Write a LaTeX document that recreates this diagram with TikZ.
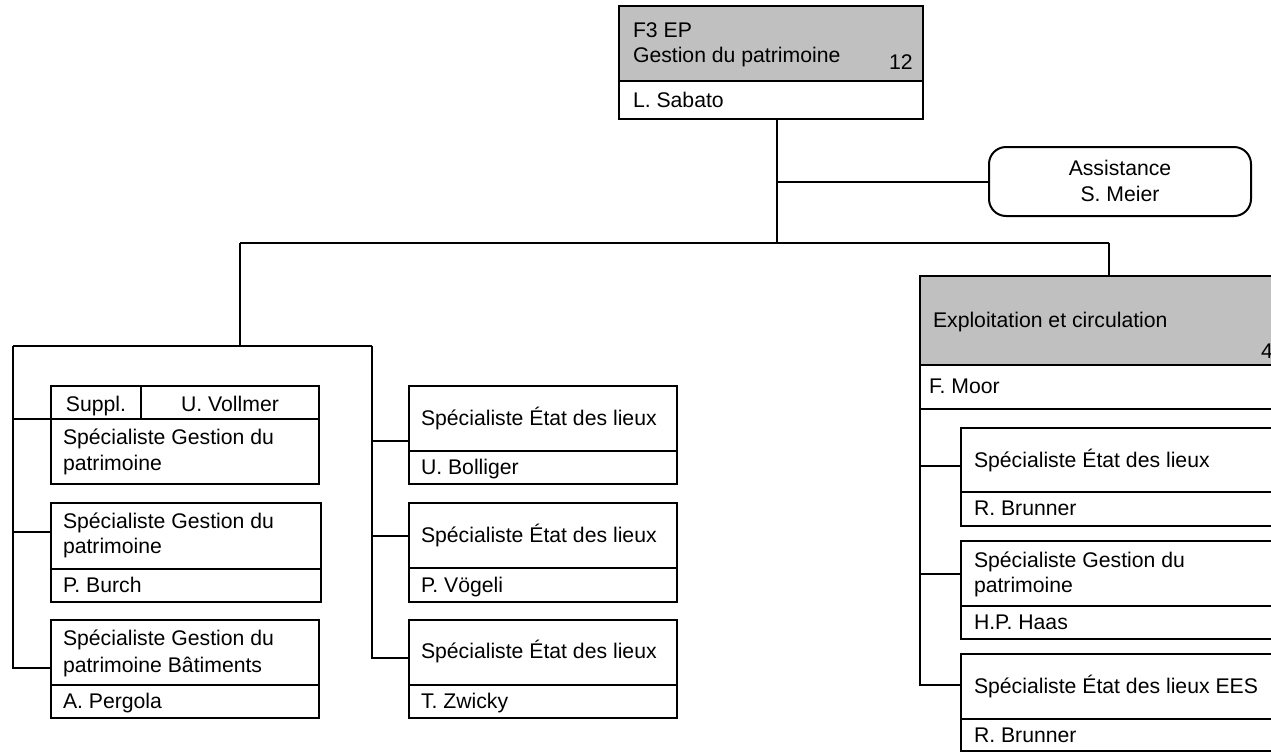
\documentclass[tikz,border=0pt]{standalone}
\usepackage{fontspec}
\setmainfont{Liberation Sans}
\definecolor{hdr}{RGB}{192,192,192}
\begin{document}
\begin{tikzpicture}[x=1pt,y=-1pt,line width=2pt,
  box/.style={draw,inner sep=0pt,outer sep=0pt,anchor=north west},
  txt/.style={inner sep=0pt,anchor=base west,font=\fontsize{21.2}{25}\selectfont},
  ctxt/.style={inner sep=0pt,anchor=base,font=\fontsize{21.2}{25}\selectfont},
  divl/.style={line width=2pt}]
\clip (0,0) rectangle (1271,753);
\fill[white] (0,0) rectangle (1271,753);

% ---- top box
\fill[hdr] (619,6) rectangle (923,81);
\node[box,minimum width=304pt,minimum height=113pt] (top) at (619,6) {};
\draw[divl] (619,81) -- (923,81);
\node[txt] (t1) at (632,37) {F3 EP};
\node[txt] (t2) at (632,62) {Gestion du patrimoine};
\node[txt] (t3) at (888,69) {12};
\node[txt] (t4) at (632,107) {L. Sabato};

% ---- assistance
\node[box,rounded corners=17pt,minimum width=262pt,minimum height=69pt] (assist) at (989,147) {};
\node[ctxt] (a1) at (1120,175) {Assistance};
\node[ctxt] (a2) at (1120,201) {S. Meier};

% ---- Exploitation
\fill[hdr] (920,276) rectangle (1300,365);
\node[box,minimum width=380pt,minimum height=133pt] (expl) at (920,276) {};
\draw[divl] (920,365) -- (1300,365);
\node[txt] (e1) at (932,327) {Exploitation et circulation};
\node[txt] (e2) at (1260,358) {4};
\node[txt] (e3) at (928,393) {F. Moor};

% ---- right boxes
\node[box,minimum width=340pt,minimum height=98pt] (r1) at (961,428) {};
\draw[divl] (961,492) -- (1300,492);
\node[txt] (r1a) at (973,467) {Spécialiste État des lieux};
\node[txt] (r1b) at (973,515) {R. Brunner};

\node[box,minimum width=340pt,minimum height=98pt] (r2) at (961,541) {};
\draw[divl] (961,606) -- (1300,606);
\node[txt] (r2a) at (973,567) {Spécialiste Gestion du};
\node[txt] (r2b) at (973,592) {patrimoine};
\node[txt] (r2c) at (973,629) {H.P. Haas};

\node[box,minimum width=340pt,minimum height=97pt] (r3) at (961,654) {};
\draw[divl] (961,719) -- (1300,719);
\node[txt] (r3a) at (973,693) {Spécialiste État des lieux EES};
\node[txt] (r3b) at (973,742) {R. Brunner};

% ---- middle boxes
\node[box,minimum width=268pt,minimum height=98pt] (m1) at (409,386) {};
\draw[divl] (409,451) -- (677,451);
\node[txt] (m1a) at (420,425) {Spécialiste État des lieux};
\node[txt] (m1b) at (420,474) {U. Bolliger};

\node[box,minimum width=268pt,minimum height=99pt] (m2) at (409,503) {};
\draw[divl] (409,568) -- (677,568);
\node[txt] (m2a) at (420,542) {Spécialiste État des lieux};
\node[txt] (m2b) at (420,592) {P. Vögeli};

\node[box,minimum width=268pt,minimum height=98pt] (m3) at (409,620) {};
\draw[divl] (409,685) -- (677,685);
\node[txt] (m3a) at (420,658) {Spécialiste État des lieux};
\node[txt] (m3b) at (420,708) {T. Zwicky};

% ---- left boxes
\node[box,minimum width=268pt,minimum height=98pt] (l1) at (51,386) {};
\draw[divl] (51,419) -- (319,419);
\draw[divl] (141,386) -- (141,419);
\node[ctxt] (l1s) at (96,411) {Suppl.};
\node[ctxt] (l1v) at (230,411) {U. Vollmer};
\node[txt] (l1a) at (62,444) {Spécialiste Gestion du};
\node[txt] (l1b) at (62,470) {patrimoine};

\node[box,minimum width=270pt,minimum height=99pt] (l2) at (51,503) {};
\draw[divl] (51,569) -- (321,569);
\node[txt] (l2a) at (62,528) {Spécialiste Gestion du};
\node[txt] (l2b) at (62,553) {patrimoine};
\node[txt] (l2c) at (62,592) {P. Burch};

\node[box,minimum width=268pt,minimum height=98pt] (l3) at (51,620) {};
\draw[divl] (51,685) -- (319,685);
\node[txt] (l3a) at (62,645) {Spécialiste Gestion du};
\node[txt] (l3b) at (62,672) {patrimoine Bâtiments};
\node[txt] (l3c) at (62,708) {A. Pergola};

% ---- connector points
\coordinate (j1) at (777,182);
\coordinate (j2) at (777,243);
\coordinate (bl) at (240,243);
\coordinate (br) at (1109,243);
\coordinate (lv) at (13,346);
\coordinate (mv) at (372,346);
\coordinate (l1in) at (51,419);
\coordinate (l2in) at (51,532);
\coordinate (l3in) at (51,668);
\coordinate (m1in) at (409,441);
\coordinate (m2in) at (409,536);
\coordinate (m3in) at (409,658);
\coordinate (r1in) at (961,466);
\coordinate (r2in) at (961,574);
\coordinate (r3in) at (961,685);

% ---- connectors
\draw (j2 |- top.south) -- (j2);
\draw (j1) -- (assist.west |- j1);
\draw (bl) -- (br);
\draw (bl) -- (bl |- lv);
\draw (br) -- (br |- expl.north);
\draw (lv) -- (mv);
\draw (lv) |- (l1in);
\draw (lv) |- (l2in);
\draw (lv) |- (l3in);
\draw (mv) |- (m1in);
\draw (mv) |- (m2in);
\draw (mv) |- (m3in);
\draw (expl.south west) |- (r1in);
\draw (expl.south west) |- (r2in);
\draw (expl.south west) |- (r3in);
\end{tikzpicture}
\end{document}
